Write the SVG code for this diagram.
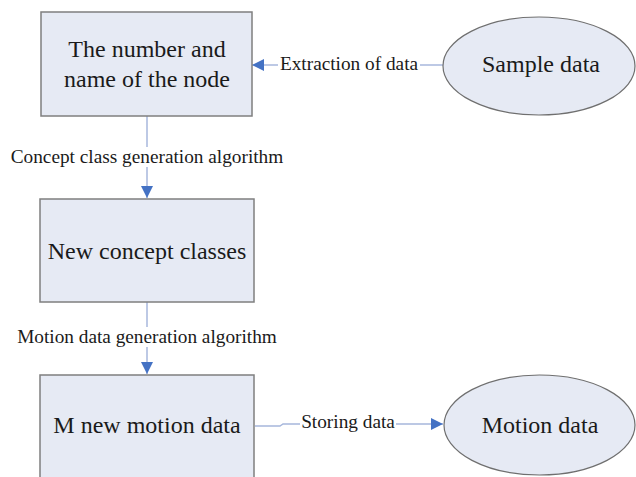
<svg xmlns="http://www.w3.org/2000/svg" width="636" height="477" viewBox="0 0 636 477">
<defs>
<style>
.box{fill:#e6eaf4;stroke:#7f7f7f;stroke-width:1.5}
.ell{fill:#e6eaf4;stroke:#6f6f6f;stroke-width:1.2}
.node{font-family:"Liberation Serif","Times New Roman",serif;font-size:24px;fill:#1a1a1a;text-anchor:middle}
.lbl{font-family:"Liberation Serif","Times New Roman",serif;font-size:19.3px;fill:#1a1a1a;text-anchor:middle}
.conn{fill:none;stroke:#a7b7dc;stroke-width:1.5}
.bg{fill:#ffffff}
</style>
<marker id="ah" viewBox="0 0 12 12" refX="12" refY="6" markerWidth="12" markerHeight="12" markerUnits="userSpaceOnUse" orient="auto">
<path d="M0,0 L12,6 L0,12 Z" fill="#4472c4"/>
</marker>
</defs>
<rect width="636" height="477" fill="#ffffff"/>
<g id="connectors">
<path class="conn" d="M443,65 H252" marker-end="url(#ah)"/>
<path class="conn" d="M147,116 V198" marker-end="url(#ah)"/>
<path class="conn" d="M147,302 V374" marker-end="url(#ah)"/>
<path class="conn" d="M255,426 H280 L283,424 H443" marker-end="url(#ah)"/>
<rect class="bg" x="278" y="55" width="142" height="19"/>
<text class="lbl" x="349" y="70">Extraction of data</text>
<rect class="bg" x="5" y="147" width="284" height="20"/>
<text class="lbl" x="147" y="163">Concept class generation algorithm</text>
<rect class="bg" x="12" y="327" width="270" height="20"/>
<text class="lbl" x="147" y="343">Motion data generation algorithm</text>
<rect class="bg" x="300" y="413" width="96" height="19"/>
<text class="lbl" x="348" y="428">Storing data</text>
</g>
<g id="node-number-name">
<rect class="box" x="41" y="12" width="211" height="104"/>
<text class="node" x="147" y="57">The number and</text>
<text class="node" x="147" y="87">name of the node</text>
</g>
<g id="node-sample-data">
<ellipse class="ell" cx="539" cy="66" rx="96" ry="49"/>
<text class="node" x="541" y="72">Sample data</text>
</g>
<g id="node-new-concept">
<rect class="box" x="40" y="199" width="214" height="103"/>
<text class="node" x="147" y="259">New concept classes</text>
</g>
<g id="node-m-new-motion">
<rect class="box" x="40" y="375" width="214" height="110"/>
<text class="node" x="147" y="433">M new motion data</text>
</g>
<g id="node-motion-data">
<ellipse class="ell" cx="539.5" cy="425" rx="95.5" ry="50"/>
<text class="node" x="540" y="433">Motion data</text>
</g>
</svg>
